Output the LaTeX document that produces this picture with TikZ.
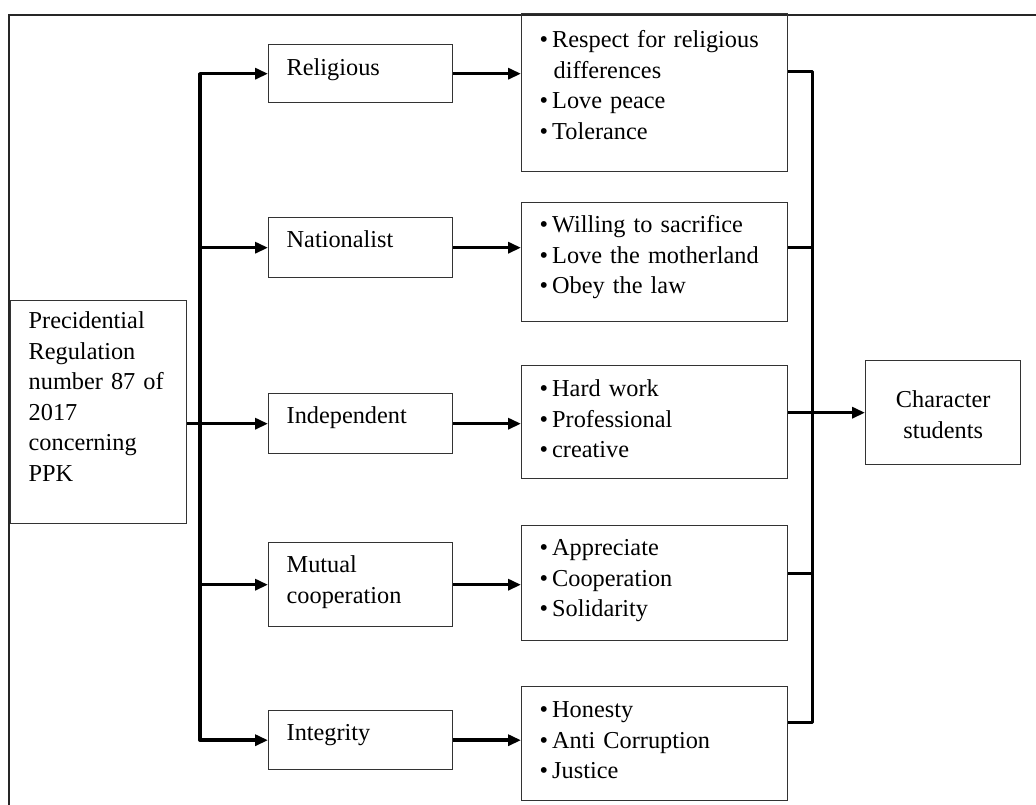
\documentclass[tikz,border=0pt]{standalone}
\usepackage{fontspec}
\setmainfont{Liberation Serif}
\usetikzlibrary{arrows.meta}
\newcommand\itm{\textbullet\hspace{4pt}}
\begin{document}
\begin{tikzpicture}[x=1pt,y=-1pt,
 box/.style={draw=black!80, line width=1.4pt, anchor=north west, inner xsep=18pt, inner ysep=0pt, align=left, font=\fontsize{24.3pt}{30.5pt}\selectfont},
 mid/.style={box, text width=148pt},
 lst/.style={box, text width=230pt},
 thickline/.style={line width=3.5pt, line join=round},
 arr/.style={thickline, -{Triangle[length=13pt,width=11pt]}},
 both/.style={thickline, {Triangle[length=13pt,width=11pt]}-{Triangle[length=13pt,width=11pt]}},
 rline/.style={line width=3pt, line join=round},
]
\useasboundingbox (0,0) rectangle (1036,805);
\draw[line width=1.5pt, black!85] (1036,15) -- (9,15) -- (9,805);

\node[box, text width=140pt, text height=28pt, text depth=195pt] (main) at (10,300)
 {Precidential\\Regulation\\number 87 of\\2017\\concerning\\PPK};

\node[mid, text height=31pt, text depth=27pt] (rel) at (268,44) {Religious};
\node[mid, text height=30pt, text depth=30pt] (nat) at (268,217) {Nationalist};
\node[mid, text height=30pt, text depth=30pt] (ind) at (268,393) {Independent};
\node[mid, text height=30pt, text depth=54pt] (mut) at (268,542) {Mutual\\cooperation};
\node[mid, text height=30pt, text depth=29pt] (integ) at (268,710) {Integrity};

\node[lst, text height=34pt, text depth=124pt] (rl) at (521,13)
 {\itm Respect for religious\\\hspace*{14pt}differences\\\itm Love peace\\\itm Tolerance};
\node[lst, text height=30pt, text depth=89pt] (nl) at (521,202)
 {\itm Willing to sacrifice\\\itm Love the motherland\\\itm Obey the law};
\node[lst, text height=31pt, text depth=82pt] (il) at (521,365)
 {\itm Hard work\\\itm Professional\\\itm creative};
\node[lst, text height=30pt, text depth=85pt] (ml) at (521,525)
 {\itm Appreciate\\\itm Cooperation\\\itm Solidarity};
\node[lst, text height=31pt, text depth=83pt] (tl) at (521,686)
 {\itm Honesty\\\itm Anti Corruption\\\itm Justice};

\node[box, align=center, text width=119pt, text height=47pt, text depth=57pt] (char) at (865,360)
 {Character\\students};

\coordinate (tx) at (200,0);
\coordinate (j1) at (812,72);
\coordinate (j2) at (812,247);
\coordinate (j4) at (812,573);
\coordinate (j5) at (812,722);

\draw[both] (rel.west) -- (rel.west -| tx) -- (integ.west -| tx) -- (integ.west);
\draw[arr] (nat.west -| tx) -- (nat.west);
\draw[arr] (mut.west -| tx) -- (mut.west);
\draw[arr] (main.east |- ind.west) -- (ind.west);

\draw[arr] (rel.east) -- (rl.west |- rel.east);
\draw[arr] (nat.east) -- (nl.west |- nat.east);
\draw[arr] (ind.east) -- (il.west |- ind.east);
\draw[arr] (mut.east) -- (ml.west |- mut.east);
\draw[arr] (integ.east) -- (tl.west |- integ.east);

\draw[rline] (rl.east |- j1) -- (j1) -- (j5) -- (tl.east |- j5);
\draw[rline] (nl.east |- j2) -- (j2);
\draw[rline] (ml.east |- j4) -- (j4);
\draw[arr] (il.east |- char.west) -- (char.west);
\end{tikzpicture}
\end{document}
